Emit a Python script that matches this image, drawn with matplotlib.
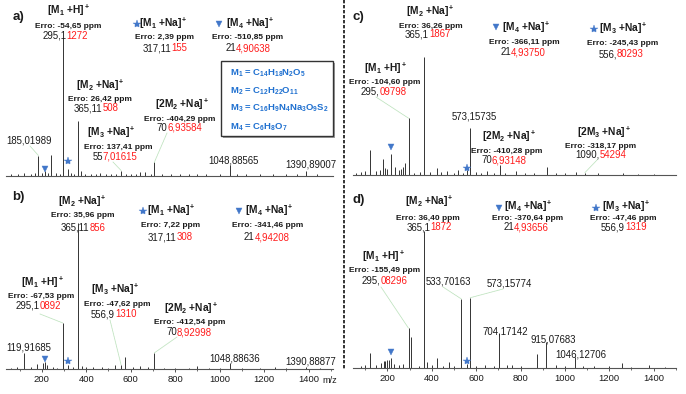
import matplotlib
matplotlib.use('Agg')
import matplotlib.pyplot as plt
from matplotlib.lines import Line2D
from matplotlib.patches import Rectangle
from matplotlib.ticker import MultipleLocator
import matplotlib.transforms as mtransforms

plt.rcParams.update({
    'font.family': ['Liberation Sans', 'DejaVu Sans'],
    'mathtext.fontset': 'custom',
    'mathtext.rm': 'Liberation Sans',
    'mathtext.bf': 'Liberation Sans:bold',
    'mathtext.it': 'Liberation Sans:italic',
    'mathtext.sf': 'Liberation Sans',
    'mathtext.default': 'bf',
})

# ---------------- data (m/z, relative intensity %) ----------------
mz_a = [62, 95, 120, 150, 170, 185, 200, 214, 226, 240,
        262, 280, 295, 317, 330, 345, 365, 376, 395, 420,
        445, 460, 490, 510, 535, 557, 580, 600, 625, 643,
        665, 690, 706, 740, 780, 820, 860, 900, 940, 1000,
        1048, 1080, 1120, 1180, 1240, 1300, 1350, 1390, 1440]
int_a = [0.8, 1.0, 1.5, 1.0, 2.0, 14.5, 2.0, 3.5, 1.5, 15.0,
         1.5, 1.2, 100, 4.4, 1.5, 1.0, 40, 3.0, 1.0, 1.0,
         1.2, 1.5, 1.0, 1.0, 1.2, 3.6, 1.0, 1.2, 1.0, 2.2,
         2.5, 1.0, 9.5, 1.0, 1.0, 0.8, 1.3, 0.8, 1.0, 1.2,
         7.3, 0.8, 1.0, 0.8, 1.2, 0.8, 0.8, 3.6, 0.8]

mz_b = [60, 90, 120, 150, 180, 205, 214, 222, 250, 270,
        295, 317, 340, 365, 380, 400, 430, 470, 500, 530,
        557, 573, 610, 640, 680, 706, 750, 800, 860, 900,
        950, 1000, 1048, 1100, 1180, 1250, 1300, 1390, 1450]
int_b = [1.0, 1.5, 11, 1.5, 3.4, 4.0, 4.8, 3.0, 1.5, 1.0,
         31.5, 2.7, 1.5, 100, 2.0, 1.5, 1.2, 1.5, 1.0, 2.7,
         2.7, 8.4, 1.5, 2.0, 1.5, 11, 1.0, 1.0, 1.0, 2.0,
         1.0, 0.8, 4.1, 0.8, 0.8, 1.5, 0.8, 1.5, 0.8]

mz_c = [60, 80, 100, 120, 150, 165, 178, 190, 200, 214,
        236, 250, 262, 270, 280, 295, 320, 345, 365, 390,
        421, 440, 470, 500, 520, 540, 557, 573, 600, 620,
        650, 680, 706, 730, 780, 820, 860, 918, 960, 1000,
        1050, 1090, 1150, 1260, 1330, 1400]
int_c = [2.0, 2.5, 3.5, 21, 3.5, 4.0, 13.5, 6.0, 5.0, 17.7,
         6.8, 4.5, 5.0, 6.5, 10, 48, 2.0, 2.5, 100, 2.5,
         6.0, 2.5, 3.0, 2.0, 4.0, 2.0, 4.0, 40, 2.5, 2.0,
         3.0, 2.0, 8.5, 2.0, 3.0, 2.0, 2.0, 6.8, 1.5, 2.0,
         2.5, 2.0, 1.5, 2.0, 1.0, 1.0]

mz_d = [80, 100, 120, 150, 170, 183, 190, 200, 208, 214,
        230, 250, 270, 295, 305, 340, 365, 378, 400, 424,
        450, 479, 500, 533, 557, 573, 600, 640, 680, 704,
        740, 760, 800, 876, 915, 960, 1000, 1046, 1080, 1130,
        1200, 1255, 1300, 1380, 1450]
int_d = [1.5, 2.0, 11, 2.0, 3.5, 5.0, 5.0, 5.8, 6.0, 7.3,
         3.0, 2.5, 3.0, 29, 22.6, 1.5, 100, 4.4, 2.0, 7.3,
         1.5, 4.4, 1.5, 50.4, 3.0, 51.3, 1.5, 2.0, 1.5, 25.5,
         2.0, 2.5, 1.5, 10, 19, 2.0, 1.5, 8.0, 1.5, 1.5,
         1.5, 3.6, 1.0, 2.0, 1.0]

tick_vals = [200, 400, 600, 800, 1000, 1200, 1400]
tick_labels = ['200', '400', '600', '800', '1000', '1200', '1400']

legend_lines = ['M$_1$ = C$_{14}$H$_{18}$N$_2$O$_5$',
                'M$_2$ = C$_{12}$H$_{22}$O$_{11}$',
                'M$_3$ = C$_{16}$H$_9$N$_4$Na$_3$O$_9$S$_2$',
                'M$_4$ = C$_6$H$_8$O$_7$']

# ---------------- figure ----------------
W, H = 686, 394
fig = plt.figure(figsize=(W / 100, H / 100), dpi=100)
R = fig.canvas.get_renderer()

BLUE = '#4277c9'
LBLUE = '#1f70d0'
RED = '#ff1a1a'
GREEN = '#bfe3bf'
PEAK = '#333333'
TXT = '#1a1a1a'


def fx(x):
    return x / W


def fy(y):
    return 1 - y / H


def make_ax(l, r, base, top, xlim, ticks):
    ax = fig.add_axes([fx(l), fy(base), (r - l) / W, (base - top) / H])
    ax.set_xlim(*xlim)
    ax.set_ylim(0, 100)
    ax.patch.set_visible(False)
    for s in ['top', 'right', 'left']:
        ax.spines[s].set_visible(False)
    ax.spines['bottom'].set_color('#555555')
    ax.spines['bottom'].set_linewidth(0.8)
    ax.set_yticks([])
    if ticks:
        ax.set_xticks(tick_vals)
        ax.set_xticklabels(tick_labels)
        ax.xaxis.set_minor_locator(MultipleLocator(100))
        ax.tick_params(axis='x', which='major', length=2.5, width=0.7,
                       color='#555555', labelsize=6.8, pad=2.0, labelcolor=TXT)
        ax.tick_params(axis='x', which='minor', length=1.5, width=0.6,
                       color='#555555')
    else:
        ax.set_xticks([])
    return ax


def draw_peaks(ax, mz, it):
    ax.vlines(mz, 0, it, color=PEAK, lw=0.7, clip_on=False)


def mark(ax, mz, it, m, off_pt, marker, ms):
    y = it[mz.index(m)]
    tr = ax.transData + mtransforms.ScaledTranslation(0, off_pt / 72, fig.dpi_scale_trans)
    ax.plot([m], [y], marker=marker, ms=ms, color=BLUE, mec=BLUE, mew=0.3,
            transform=tr, clip_on=False, ls='none')


def leader(ax, mz, it, m, xs, ys):
    y = it[mz.index(m)]
    ax.annotate('', xy=(m, y), xycoords='data', xytext=(fx(xs), fy(ys)),
                textcoords='figure fraction',
                arrowprops=dict(arrowstyle='-', color=GREEN, lw=0.6,
                                linestyle=(0, (1.2, 0.8)), shrinkA=0, shrinkB=0))


def head(x, y, s, size=7.4):
    fig.text(fx(x), fy(y + 2.9), s, ha='center', va='baseline', fontsize=size,
             fontweight='bold', color=TXT)


def err(x, y, s, size=6.0):
    fig.text(fx(x), fy(y + 0.36 * size * 100 / 72), s, ha='center', va='baseline',
             fontsize=size, fontweight='bold', color=TXT)


def plain(x, y, s, size=6.9):
    fig.text(fx(x), fy(y + 0.36 * size * 100 / 72), s, ha='center', va='baseline',
             fontsize=size, color=TXT)


def two_tone(x, y, blk, red, size=6.9):
    base = y + 0.36 * size * 100 / 72
    tmp = fig.text(0, 0, blk + red, fontsize=size)
    wt = tmp.get_window_extent(R).width
    tmp.set_text(blk)
    wb = tmp.get_window_extent(R).width
    tmp.remove()
    x0 = x - wt / 2
    fig.text(fx(x0), fy(base), blk, ha='left', va='baseline', fontsize=size, color=TXT)
    fig.text(fx(x0 + wb), fy(base), red, ha='left', va='baseline', fontsize=size, color=RED)


def sym(x, y, marker, ms):
    fig.add_artist(Line2D([fx(x)], [fy(y)], marker=marker, ms=ms, color=BLUE,
                          mec=BLUE, mew=0.3, transform=fig.transFigure, ls='none'))


def letter(x, y, s):
    fig.text(fx(x), fy(y + 3.3), s, ha='center', va='baseline', fontsize=9.5,
             fontweight='bold', color=TXT)


XL = (39, 1510)
XR = (44.5, 1500.7)

ax_a = make_ax(6, 333, 175.5, 38, XL, False)
ax_b = make_ax(6, 333, 369, 223, XL, True)
ax_c = make_ax(353, 676, 175, 56.7, XR, False)
ax_d = make_ax(353, 676, 368, 231, XR, True)

draw_peaks(ax_a, mz_a, int_a)
draw_peaks(ax_b, mz_b, int_b)
draw_peaks(ax_c, mz_c, int_c)
draw_peaks(ax_d, mz_d, int_d)

# markers on spectra
mark(ax_a, mz_a, int_a, 214, 0.9, 'v', 4.5)
mark(ax_a, mz_a, int_a, 317, 6.1, '*', 6)
mark(ax_b, mz_b, int_b, 214, 2.2, 'v', 4.5)
mark(ax_b, mz_b, int_b, 317, 3.0, '*', 6)
mark(ax_c, mz_c, int_c, 214, 5.3, 'v', 4.5)
mark(ax_c, mz_c, int_c, 557, 1.5, '*', 6)
mark(ax_d, mz_d, int_d, 214, 4.5, 'v', 4.5)
mark(ax_d, mz_d, int_d, 557, 2.1, '*', 6)

# leader lines
leader(ax_a, mz_a, int_a, 185, 30, 146)
leader(ax_a, mz_a, int_a, 557, 113, 162)
leader(ax_a, mz_a, int_a, 706, 167, 133)
leader(ax_b, mz_b, int_b, 295, 40, 314)
leader(ax_b, mz_b, int_b, 557, 110, 320)
leader(ax_b, mz_b, int_b, 706, 177, 337)
leader(ax_c, mz_c, int_c, 295, 376, 97)
leader(ax_c, mz_c, int_c, 1090, 598, 159)
leader(ax_d, mz_d, int_d, 295, 381, 287)
leader(ax_d, mz_d, int_d, 533, 443, 287)
leader(ax_d, mz_d, int_d, 573, 503, 289)

# ---------------- panel a texts ----------------
letter(18.3, 16.7, 'a)')
head(69, 11.5, '[M$_1$ +H]$^+$')
err(68.3, 24.7, 'Erro: -54,65 ppm')
two_tone(65, 35.3, '295,1', '1272')
sym(136.7, 24, '*', 6)
head(163.8, 23.8, '[M$_1$ +Na]$^+$')
err(164.5, 36.3, 'Erro: 2,39 ppm')
two_tone(165, 47.8, '317,11', '155')
sym(219.3, 24, 'v', 4.5)
head(250.3, 23.8, '[M$_4$ +Na]$^+$')
err(247.5, 36, 'Erro: -510,85 ppm')
two_tone(248.3, 48, '21', '4,90638')
head(100.2, 85.8, '[M$_2$ +Na]$^+$')
err(99.7, 97.8, 'Erro: 26,42 ppm')
two_tone(96, 108, '365,11', '508')
head(182, 105, '[2M$_2$ +Na]$^+$')
err(180, 117.8, 'Erro: -404,29 ppm')
two_tone(179.5, 127.5, '70', '6,93584')
head(111.7, 133.3, '[M$_3$ +Na]$^+$')
err(117.8, 146.2, 'Erro: 137,41 ppm')
two_tone(115, 156.3, '55', '7,01615')
plain(29.5, 139.7, '185,01989')
plain(233.8, 160.3, '1048,88565')
plain(311.3, 163.7, '1390,89007')

# legend box
bx0, by0, bx1, by1 = 220.7, 61, 333.3, 135.5
fig.add_artist(Rectangle((fx(bx0 + 2), fy(by1 + 2)), (bx1 - bx0) / W, (by1 - by0) / H,
                         transform=fig.transFigure, facecolor='#a0a0a0', edgecolor='none'))
fig.add_artist(Rectangle((fx(bx0), fy(by1)), (bx1 - bx0) / W, (by1 - by0) / H,
                         transform=fig.transFigure, facecolor='white', edgecolor='#333333',
                         lw=1.0))
for s, yy in zip(legend_lines, [72.5, 90, 107.7, 126]):
    fig.text(fx(229.5), fy(yy + 3.3), s, ha='left', va='baseline', fontsize=6.8,
             fontweight='bold', color=LBLUE)

# ---------------- panel b texts ----------------
letter(18, 197, 'b)')
head(82.7, 201.5, '[M$_2$ +Na]$^+$')
err(82.3, 214.5, 'Erro: 35,96 ppm')
two_tone(83, 227.5, '365,11', '856')
sym(143.3, 210.7, '*', 6)
head(171.2, 211, '[M$_1$ +Na]$^+$')
err(170.8, 224, 'Erro: 7,22 ppm')
two_tone(170.3, 237, '317,11', '308')
sym(239, 211, 'v', 4.5)
head(269.5, 211, '[M$_4$ +Na]$^+$')
err(267.2, 224, 'Erro: -341,46 ppm')
two_tone(266.7, 237, '21', '4,94208')
head(42.3, 283, '[M$_1$ +H]$^+$')
err(40.7, 295.3, 'Erro: -67,53 ppm')
two_tone(38, 305.3, '295,1', '0892')
head(115.8, 290.3, '[M$_3$ +Na]$^+$')
err(117, 303, 'Erro: -47,62 ppm')
two_tone(113.7, 314, '556,9', '1310')
head(191.7, 308.7, '[2M$_2$ +Na]$^+$')
err(189.2, 321.3, 'Erro: -412,54 ppm')
two_tone(189.2, 332, '70', '8,92998')
plain(28.8, 347.5, '119,91685')
plain(234.7, 358, '1048,88636')
plain(311, 361, '1390,88877')
plain(330, 379.5, 'm/z', size=6.6)

# ---------------- panel c texts ----------------
letter(358.8, 16.7, 'c)')
head(430.2, 11.7, '[M$_2$ +Na]$^+$')
err(431.3, 24.5, 'Erro: 36,26 ppm')
two_tone(427.2, 33.7, '365,1', '1867')
sym(496.3, 27.3, 'v', 4.5)
head(526.2, 28.3, '[M$_4$ +Na]$^+$')
err(524.3, 40.5, 'Erro: -366,11 ppm')
two_tone(523, 52, '21', '4,93750')
sym(593.7, 29.3, '*', 6)
head(623, 29.3, '[M$_3$ +Na]$^+$')
err(622.7, 42.2, 'Erro: -245,43 ppm')
two_tone(621, 53.7, '556,', '80293')
head(385.8, 69.5, '[M$_1$ +H]$^+$')
err(384.7, 81.2, 'Erro: -104,60 ppm')
two_tone(383.3, 91.2, '295,', '09798')
plain(474.7, 116.2, '573,15735')
head(509.7, 137, '[2M$_2$ +Na]$^+$')
err(506.3, 150.5, 'Erro: -410,28 ppm')
two_tone(503.8, 159.7, '70', '6,93148')
head(603.8, 133.3, '[2M$_3$ +Na]$^+$')
err(600.8, 144.5, 'Erro: -318,17 ppm')
two_tone(601.3, 154.5, '1090,', '54294')

# ---------------- panel d texts ----------------
letter(358.8, 200, 'd)')
head(429.3, 202, '[M$_2$ +Na]$^+$')
err(428, 216.5, 'Erro: 36,40 ppm')
two_tone(428.8, 227, '365,1', '1872')
sym(498.7, 208, 'v', 4.5)
head(528, 207.5, '[M$_4$ +Na]$^+$')
err(527.2, 216.5, 'Erro: -370,64 ppm')
two_tone(526.3, 227, '21', '4,93656')
sym(596.3, 208, '*', 6)
head(626, 207.5, '[M$_3$ +Na]$^+$')
err(623, 216.5, 'Erro: -47,46 ppm')
two_tone(623.8, 227, '556,9', '1319')
head(383.8, 256.7, '[M$_1$ +H]$^+$')
err(385, 269, 'Erro: -155,49 ppm')
two_tone(384.7, 280.2, '295,', '08296')
plain(448, 281.3, '533,70163')
plain(509, 283.5, '573,15774')
plain(505, 331.3, '704,17142')
plain(553.5, 339.5, '915,07683')
plain(580.8, 354.2, '1046,12706')

# dashed divider
fig.add_artist(Line2D([fx(344), fx(344)], [fy(0), fy(370)], transform=fig.transFigure,
                      color='#111111', lw=1.2, linestyle=(0, (2, 1))))

fig.savefig('out.png', dpi=100)
